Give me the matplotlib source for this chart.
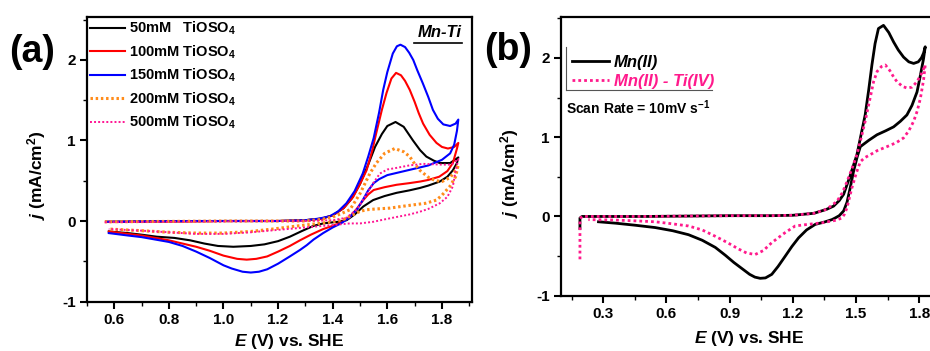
import matplotlib
matplotlib.use("Agg")
import matplotlib.pyplot as plt
from matplotlib.ticker import MultipleLocator, FormatStrFormatter

plt.rcParams['font.family'] = ['Liberation Sans', 'DejaVu Sans']
plt.rcParams['font.weight'] = 'bold'
plt.rcParams['mathtext.fontset'] = 'custom'
plt.rcParams['mathtext.rm'] = 'Liberation Sans:bold'
plt.rcParams['mathtext.it'] = 'Liberation Sans:italic:bold'
plt.rcParams['mathtext.bf'] = 'Liberation Sans:bold'
plt.rcParams['mathtext.default'] = 'regular'

# ---------------- (a) CVs of Mn-Ti electrolytes, different TiOSO4 contents ----------------
labels_a = ["50mM   TiOSO$_4$", "100mM TiOSO$_4$", "150mM TiOSO$_4$",
            "200mM TiOSO$_4$", "500mM TiOSO$_4$"]

E_50 = [0.57, 0.8, 1.0, 1.2, 1.3, 1.36, 1.40, 1.44, 1.47, 1.50, 1.53, 1.555, 1.58, 1.60, 1.63,
        1.66, 1.694, 1.72, 1.743, 1.77, 1.792, 1.83, 1.86,
        1.855, 1.84, 1.82, 1.792, 1.75, 1.719, 1.68, 1.634, 1.59, 1.548, 1.512, 1.48, 1.451,
        1.42, 1.39, 1.365, 1.33, 1.29, 1.243, 1.2, 1.15, 1.1, 1.036, 0.98, 0.93, 0.878, 0.82,
        0.756, 0.7, 0.65, 0.58]
j_50 = [-0.01, -0.005, 0.0, 0.0, 0.01, 0.03, 0.07, 0.16, 0.28, 0.46, 0.70, 0.92, 1.08, 1.18, 1.23,
        1.17, 1.0, 0.88, 0.80, 0.75, 0.72, 0.72, 0.79,
        0.72, 0.63, 0.55, 0.49, 0.44, 0.41, 0.38, 0.35, 0.31, 0.26, 0.18, 0.08, 0.01,
        -0.01, -0.02, -0.03, -0.06, -0.12, -0.195, -0.25, -0.29, -0.31, -0.32, -0.31, -0.28, -0.24, -0.21,
        -0.195, -0.17, -0.15, -0.13]

E_100 = [0.57, 0.8, 1.0, 1.2, 1.3, 1.36, 1.40, 1.44, 1.475, 1.50, 1.524, 1.545, 1.56, 1.58, 1.597,
         1.615, 1.632, 1.65, 1.665, 1.682, 1.70, 1.715, 1.731, 1.755, 1.78, 1.80, 1.822, 1.845, 1.86,
         1.855, 1.84, 1.82, 1.79, 1.75, 1.72, 1.68, 1.634, 1.59, 1.55, 1.53, 1.512, 1.49, 1.463,
         1.43, 1.40, 1.365, 1.32, 1.28, 1.243, 1.2, 1.16, 1.12, 1.085, 1.05, 1.0, 0.95, 0.9, 0.85,
         0.8, 0.75, 0.7, 0.65, 0.58]
j_100 = [-0.01, -0.005, 0.0, 0.0, 0.01, 0.03, 0.07, 0.16, 0.30, 0.46, 0.63, 0.88, 1.10, 1.38, 1.59,
         1.77, 1.84, 1.81, 1.74, 1.63, 1.48, 1.34, 1.21, 1.07, 0.97, 0.92, 0.90, 0.92, 0.97,
         0.90, 0.72, 0.62, 0.55, 0.51, 0.49, 0.47, 0.45, 0.42, 0.385, 0.33, 0.26, 0.16, 0.05,
         -0.02, -0.06, -0.10, -0.17, -0.24, -0.31, -0.38, -0.44, -0.47, -0.48, -0.47, -0.43, -0.37, -0.32, -0.28,
         -0.24, -0.21, -0.18, -0.16, -0.13]

E_150 = [0.57, 0.7, 0.9, 1.1, 1.2, 1.3, 1.35, 1.39, 1.42, 1.45, 1.48, 1.51, 1.53, 1.55, 1.57,
         1.585, 1.60, 1.62, 1.635, 1.648, 1.665, 1.68, 1.695, 1.71, 1.73, 1.75, 1.767, 1.785, 1.805,
         1.83, 1.85, 1.86,
         1.855, 1.845, 1.83, 1.80, 1.75, 1.70, 1.65, 1.60, 1.57, 1.55, 1.53, 1.51, 1.49, 1.46,
         1.43, 1.40, 1.365, 1.33, 1.305, 1.28, 1.243, 1.2, 1.16, 1.13, 1.10, 1.07, 1.03, 1.0,
         0.95, 0.9, 0.85, 0.8, 0.75, 0.7, 0.65, 0.58]
j_150 = [-0.01, -0.005, 0.0, 0.0, 0.0, 0.01, 0.03, 0.06, 0.12, 0.22, 0.37, 0.59, 0.80, 1.03, 1.35,
         1.63, 1.85, 2.08, 2.17, 2.19, 2.16, 2.09, 2.0, 1.87, 1.71, 1.54, 1.38, 1.27, 1.20,
         1.18, 1.21, 1.26,
         1.12, 0.95, 0.84, 0.76, 0.69, 0.65, 0.61, 0.57, 0.52, 0.47, 0.38, 0.26, 0.15, 0.04,
         -0.03, -0.08, -0.15, -0.23, -0.30, -0.36, -0.44, -0.53, -0.60, -0.63, -0.64, -0.63, -0.59, -0.55,
         -0.46, -0.38, -0.31, -0.26, -0.23, -0.20, -0.18, -0.15]

E_200 = [0.565, 0.8, 1.0, 1.2, 1.3, 1.36, 1.40, 1.43, 1.463, 1.50, 1.536, 1.56, 1.59, 1.627, 1.66,
         1.682, 1.70, 1.719, 1.755, 1.78, 1.80, 1.83, 1.85, 1.86,
         1.85, 1.829, 1.80, 1.78, 1.74, 1.694, 1.65, 1.609, 1.56, 1.524, 1.50, 1.47, 1.44, 1.40,
         1.35, 1.3, 1.25, 1.18, 1.1, 1.0, 0.9, 0.8, 0.7, 0.58]
j_200 = [-0.01, -0.005, 0.0, 0.0, 0.0, 0.02, 0.05, 0.09, 0.14, 0.34, 0.59, 0.72, 0.84, 0.90, 0.86,
         0.80, 0.71, 0.63, 0.53, 0.50, 0.49, 0.54, 0.63, 0.70,
         0.55, 0.43, 0.32, 0.26, 0.22, 0.20, 0.18, 0.16, 0.15, 0.14, 0.12, 0.07, 0.02, -0.01,
         -0.03, -0.05, -0.07, -0.10, -0.13, -0.15, -0.15, -0.14, -0.12, -0.10]

E_500 = [0.565, 0.8, 1.0, 1.2, 1.3, 1.4, 1.45, 1.487, 1.524, 1.55, 1.573, 1.60, 1.634, 1.68, 1.731,
         1.80, 1.835, 1.86,
         1.85, 1.84, 1.82, 1.792, 1.75, 1.719, 1.68, 1.634, 1.59, 1.548, 1.50, 1.463, 1.40, 1.3,
         1.2, 1.1, 1.0, 0.9, 0.8, 0.7, 0.58]
j_500 = [-0.015, -0.01, -0.005, 0.0, 0.0, 0.01, 0.04, 0.14, 0.33, 0.48, 0.59, 0.64, 0.66, 0.69, 0.71,
         0.70, 0.70, 0.77,
         0.62, 0.43, 0.30, 0.22, 0.15, 0.115, 0.08, 0.05, 0.02, -0.01, -0.03, -0.03, -0.05, -0.08,
         -0.11, -0.14, -0.16, -0.16, -0.14, -0.12, -0.10]

# ---------------- (b) Mn(II) vs Mn(II)-Ti(IV), 10 mV/s ----------------
labels_b = ["Mn(II)", "Mn(II) - Ti(IV)"]

E_mn = [0.19, 0.19, 0.20, 0.3, 0.5, 0.7, 0.9, 1.1, 1.2, 1.3, 1.36, 1.393, 1.42, 1.441, 1.47, 1.504,
        1.525, 1.543, 1.56, 1.575, 1.59, 1.606, 1.63, 1.655, 1.678, 1.70, 1.725, 1.75, 1.773,
        1.795, 1.81, 1.82, 1.828,
        1.82, 1.805, 1.789, 1.765, 1.741, 1.71, 1.678, 1.64, 1.599, 1.56, 1.52, 1.505, 1.488,
        1.472, 1.457, 1.441, 1.42, 1.40, 1.385, 1.35, 1.306, 1.265, 1.227, 1.195, 1.164, 1.13,
        1.10, 1.07, 1.045, 1.02, 0.995, 0.96, 0.92, 0.88, 0.832, 0.77, 0.705, 0.63, 0.547,
        0.45, 0.36, 0.278]
j_mn = [-0.15, -0.02, 0.0, 0.0, 0.0, 0.005, 0.01, 0.01, 0.015, 0.04, 0.09, 0.13, 0.20, 0.28, 0.50, 0.78,
        1.05, 1.28, 1.60, 1.91, 2.18, 2.37, 2.41, 2.32, 2.20, 2.10, 2.01, 1.95, 1.93,
        1.95, 2.0, 2.06, 2.14,
        1.99, 1.78, 1.57, 1.40, 1.28, 1.20, 1.13, 1.08, 1.03, 0.96, 0.88, 0.75, 0.57,
        0.36, 0.18, 0.07, 0.01, -0.02, -0.04, -0.07, -0.10, -0.17, -0.27, -0.38, -0.50, -0.63,
        -0.73, -0.775, -0.78, -0.765, -0.73, -0.66, -0.58, -0.49, -0.39, -0.30, -0.23, -0.18, -0.14,
        -0.11, -0.085, -0.067]

E_mnti = [0.19, 0.19, 0.19, 0.20, 0.3, 0.5, 0.7, 0.9, 1.1, 1.2, 1.3, 1.36, 1.409, 1.435, 1.457,
          1.48, 1.504, 1.525, 1.543, 1.563, 1.583, 1.60, 1.62, 1.639, 1.66, 1.68, 1.694, 1.72,
          1.741, 1.765, 1.789, 1.81, 1.828,
          1.82, 1.805, 1.79, 1.773, 1.75, 1.725, 1.69, 1.646, 1.60, 1.568, 1.54, 1.52, 1.50, 1.48,
          1.465, 1.457, 1.445, 1.433, 1.40, 1.338, 1.27, 1.211, 1.16, 1.10, 1.06, 1.021, 0.98,
          0.942, 0.89, 0.832, 0.77, 0.705, 0.62, 0.547, 0.45, 0.35, 0.23]
j_mnti = [-0.54, -0.2, -0.03, 0.0, 0.0, 0.0, 0.005, 0.01, 0.01, 0.015, 0.04, 0.09, 0.19, 0.30, 0.44,
          0.60, 0.78, 1.0, 1.20, 1.45, 1.70, 1.83, 1.89, 1.91, 1.84, 1.75, 1.70, 1.64,
          1.62, 1.63, 1.70, 1.80, 1.91,
          1.72, 1.49, 1.33, 1.20, 1.08, 0.99, 0.93, 0.88, 0.83, 0.78, 0.74, 0.69, 0.54, 0.36,
          0.20, 0.11, 0.03, -0.02, -0.05, -0.08, -0.10, -0.12, -0.21, -0.33, -0.43, -0.48, -0.46,
          -0.41, -0.33, -0.25, -0.17, -0.12, -0.09, -0.067, -0.055, -0.045, -0.04]

fig = plt.figure(figsize=(9.3, 3.51), dpi=100)
ax1 = fig.add_axes([0.0935, 0.1396, 0.414, 0.812])
ax2 = fig.add_axes([0.6032, 0.1567, 0.408, 0.795])

# panel (a)
ax1.plot(E_50, j_50, color='black', lw=1.5, label=labels_a[0])
ax1.plot(E_100, j_100, color='#ff0000', lw=1.5, label=labels_a[1])
ax1.plot(E_150, j_150, color='#0000ff', lw=1.5, label=labels_a[2])
ax1.plot(E_200, j_200, color='#ff8c1a', lw=2.2, linestyle=(0, (0.8, 0.9)), label=labels_a[3])
ax1.plot(E_500, j_500, color='#ff1493', lw=1.4, linestyle=(0, (1, 1.1)), label=labels_a[4])

ax1.set_xlim(0.5, 1.91)
ax1.set_ylim(-1.006, 2.534)
ax1.xaxis.set_major_locator(MultipleLocator(0.2))
ax1.xaxis.set_minor_locator(MultipleLocator(0.1))
ax1.xaxis.set_major_formatter(FormatStrFormatter('%.1f'))

leg1 = ax1.legend(loc='upper left', bbox_to_anchor=(0.0, 1.0), borderaxespad=0.0,
                  frameon=False, fontsize=10.5, handlelength=2.4, handletextpad=0.3,
                  labelspacing=0.42, borderpad=0.2)

ax1.text(0.974, 0.944, "Mn-Ti", transform=ax1.transAxes, ha='right', va='center',
         fontsize=12, fontweight='bold', fontstyle='italic')
ax1.plot([0.849, 0.974], [0.910, 0.910], transform=ax1.transAxes, color='black', lw=1.2)

# panel (b)
ax2.plot(E_mn, j_mn, color='black', lw=2.0, label=labels_b[0])
ax2.plot(E_mnti, j_mnti, color='#ff1a8c', lw=2.0, linestyle=(0, (1, 1.1)), label=labels_b[1])

ax2.set_xlim(0.1, 1.9)
ax2.set_ylim(-1.003, 2.516)
ax2.xaxis.set_major_locator(MultipleLocator(0.3))
ax2.xaxis.set_minor_locator(MultipleLocator(0.15))
ax2.xaxis.set_major_formatter(FormatStrFormatter('%.1f'))

leg2 = ax2.legend(loc='upper left', bbox_to_anchor=(0.02, 0.875), borderaxespad=0.0,
                  frameon=False, handlelength=2.2, handletextpad=0.3,
                  labelspacing=0.22, borderpad=0.2,
                  prop={'size': 12, 'weight': 'bold', 'style': 'italic'})
for txt, col in zip(leg2.get_texts(), ['black', '#ff1a8c']):
    txt.set_color(col)
ax2.plot([0.013, 0.013], [0.740, 0.892], transform=ax2.transAxes, color='#555555', lw=0.8)
ax2.plot([0.013, 0.398], [0.740, 0.740], transform=ax2.transAxes, color='#555555', lw=0.8)

ax2.text(0.013, 0.675, "Scan Rate = 10mV s$^{-1}$", transform=ax2.transAxes,
         ha='left', va='center', fontsize=10, fontweight='bold')

for ax in (ax1, ax2):
    ax.yaxis.set_major_locator(MultipleLocator(1))
    ax.yaxis.set_minor_locator(MultipleLocator(0.5))
    ax.yaxis.set_major_formatter(FormatStrFormatter('%d'))
    ax.tick_params(which='major', direction='out', length=5, width=1.5, labelsize=11, pad=3)
    ax.tick_params(which='minor', direction='out', length=3, width=1.0)
    for lab in ax.get_xticklabels() + ax.get_yticklabels():
        lab.set_fontweight('bold')
    for sp in ax.spines.values():
        sp.set_linewidth(1.6)
    ax.set_xlabel("$\\mathit{E}$ (V) vs. SHE", fontsize=12.5, fontweight='bold')
    ax.set_ylabel("$\\mathit{j}$ (mA/cm$^2$)", fontsize=12.5, fontweight='bold')

ax1.xaxis.set_label_coords(0.525, -0.105)
ax1.yaxis.set_label_coords(-0.10, 0.446)
ax2.xaxis.set_label_coords(0.496, -0.118)
ax2.yaxis.set_label_coords(-0.105, 0.44)

fig.text(32 / 930, 1 - 52 / 351, "(a)", fontsize=27, fontweight='bold', ha='center', va='center')
fig.text(508 / 930, 1 - 50 / 351, "(b)", fontsize=27, fontweight='bold', ha='center', va='center')

fig.savefig("out.png", dpi=100, facecolor='white')
